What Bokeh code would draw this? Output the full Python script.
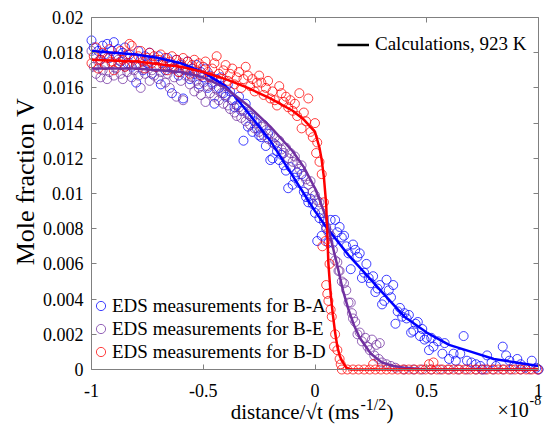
from math import pi
from bokeh.plotting import figure
from bokeh.models import (Range1d, FixedTicker, LinearAxis, Legend, LegendItem, Label)
from bokeh.core.properties import value
from bokeh.embed import file_html
from bokeh.resources import INLINE

# ---------------- data (x in units of 1e-8 m s^-1/2) ----------------
x_ticks = [-1, -0.5, 0, 0.5, 1]
x_tick_labels = ["-1", "-0.5", "0", "0.5", "1"]
y_ticks = [0, 0.002, 0.004, 0.006, 0.008, 0.01, 0.012, 0.014, 0.016, 0.018, 0.02]
y_tick_labels = ["0", "0.002", "0.004", "0.006", "0.008", "0.01", "0.012", "0.014", "0.016", "0.018", "0.02"]

# EDS measurements for B-A (blue)
ba_x = [
    -1.00, -0.99, -0.98, -0.97, -0.96, -0.95, -0.94, -0.93, -0.92, -0.91,
    -0.90, -0.89, -0.88, -0.87, -0.86, -0.85, -0.84, -0.83, -0.82, -0.81,
    -0.80, -0.79, -0.78, -0.77, -0.76, -0.75, -0.74, -0.73, -0.72, -0.71,
    -0.70, -0.69, -0.68, -0.67, -0.66, -0.65, -0.64, -0.63, -0.62, -0.61,
    -0.60, -0.59, -0.58, -0.57, -0.56, -0.55, -0.54, -0.53, -0.52, -0.51,
    -0.50, -0.49, -0.48, -0.47, -0.46, -0.45, -0.44, -0.43, -0.42, -0.41,
    -0.40, -0.39, -0.38, -0.37, -0.36, -0.35, -0.34, -0.33, -0.32, -0.31,
    -0.30, -0.29, -0.28, -0.27, -0.26, -0.25, -0.24, -0.23, -0.22, -0.21,
    -0.20, -0.19, -0.18, -0.17, -0.16, -0.15, -0.14, -0.13, -0.12, -0.11,
    -0.10, -0.09, -0.08, -0.07, -0.06, -0.05, -0.04, -0.03, -0.02, -0.01,
    0.00, 0.01, 0.02, 0.03, 0.04, 0.05, 0.06, 0.07, 0.08, 0.09,
    0.10, 0.11, 0.12, 0.13, 0.14, 0.15, 0.16, 0.17, 0.18, 0.19,
    0.20, 0.21, 0.22, 0.23, 0.24, 0.25, 0.26, 0.27, 0.28, 0.29,
    0.30, 0.31, 0.32, 0.33, 0.34, 0.35, 0.36, 0.37, 0.38, 0.39,
    0.40, 0.41, 0.42, 0.43, 0.44, 0.45, 0.46, 0.47, 0.48, 0.49,
    0.50, 0.51, 0.52, 0.53, 0.55, 0.57, 0.58, 0.60, 0.62, 0.63,
    0.65, 0.665, 0.68, 0.70, 0.72, 0.74, 0.77, 0.79, 0.81, 0.84,
    0.855, 0.87, 0.89, 0.905, 0.92, 0.94, 0.97, 0.99, 1.00, 0.75,
]
ba_y = [
    0.0187, 0.0183, 0.0178, 0.0181, 0.0176, 0.0184, 0.0179, 0.0185, 0.0177, 0.0181,
    0.0186, 0.0178, 0.0182, 0.0175, 0.0180, 0.0183, 0.0174, 0.0179, 0.0172, 0.0177,
    0.0163, 0.0181, 0.0176, 0.0170, 0.0178, 0.0174, 0.0180, 0.0168, 0.0176, 0.0172,
    0.0178, 0.0162, 0.0175, 0.0170, 0.0177, 0.0173, 0.0157, 0.0171, 0.0176, 0.0167,
    0.0173, 0.0154, 0.0170, 0.0175, 0.0165, 0.0171, 0.0168, 0.0173, 0.0162, 0.0169,
    0.0166, 0.0171, 0.0160, 0.0167, 0.0163, 0.0151, 0.0165, 0.0160, 0.0166, 0.0157,
    0.0155, 0.0162, 0.0158, 0.0153, 0.0149, 0.0150, 0.0155, 0.0147, 0.0130, 0.0151,
    0.0138, 0.0144, 0.0135, 0.0141, 0.0137, 0.0133, 0.0132, 0.0139, 0.0127, 0.0134,
    0.0119, 0.0120, 0.0128, 0.0124, 0.0119, 0.0122, 0.0116, 0.0113, 0.0103, 0.0115,
    0.0105, 0.0109, 0.0112, 0.0106, 0.0111, 0.0101, 0.0098, 0.0095, 0.0097, 0.0094,
    0.0089, 0.0073, 0.0086, 0.0076, 0.0084, 0.0080, 0.0072, 0.0085, 0.0072, 0.0085,
    0.0078, 0.0081, 0.0075, 0.0076, 0.0070, 0.0066, 0.0057, 0.0071, 0.0068, 0.0064,
    0.0066, 0.0052, 0.0055, 0.0060, 0.0052, 0.0049, 0.0053, 0.0044, 0.0046, 0.0048,
    0.0037, 0.0039, 0.0051, 0.0045, 0.0041, 0.0048, 0.0026, 0.0033, 0.0035, 0.0030,
    0.0032, 0.0029, 0.0031, 0.0021, 0.0022, 0.0026, 0.0027, 0.0019, 0.0023, 0.0017,
    0.0018, 0.0011, 0.0018, 0.0013, 0.0016, 0.0009, 0.0015, 0.0006, 0.0009, 0.0005,
    0.0009, 0.0019, 0.0005, 0.0004, 0.0003, 0.0002, 0.0008, 0.0004, 0.0002, 0.0013,
    0.0008, 0.0005, 0.0002, 0.0006, 0.0003, 0.0001, 0.0005, 0.0001, 0.0000, 0.0000,
]

# EDS measurements for B-E (purple)
be_x = [
    -1.00, -0.99, -0.98, -0.97, -0.96, -0.95, -0.94, -0.93, -0.92, -0.91,
    -0.90, -0.89, -0.88, -0.87, -0.86, -0.85, -0.84, -0.83, -0.82, -0.81,
    -0.80, -0.79, -0.78, -0.77, -0.76, -0.75, -0.74, -0.73, -0.72, -0.71,
    -0.70, -0.69, -0.68, -0.67, -0.66, -0.65, -0.64, -0.63, -0.62, -0.61,
    -0.60, -0.59, -0.58, -0.57, -0.56, -0.55, -0.54, -0.53, -0.52, -0.51,
    -0.50, -0.49, -0.48, -0.47, -0.46, -0.45, -0.44, -0.43, -0.42, -0.41,
    -0.40, -0.39, -0.38, -0.37, -0.36, -0.35, -0.34, -0.33, -0.32, -0.31,
    -0.30, -0.29, -0.28, -0.27, -0.26, -0.25, -0.24, -0.23, -0.22, -0.21,
    -0.20, -0.19, -0.18, -0.17, -0.16, -0.15, -0.14, -0.13, -0.12, -0.11,
    -0.10, -0.09, -0.08, -0.07, -0.06, -0.05, -0.04, -0.03, -0.02, -0.01,
    0.00, 0.01, 0.02, 0.03, 0.04, 0.05, 0.06, 0.07, 0.08, 0.09,
    0.10, 0.105, 0.11, 0.12, 0.13, 0.14, 0.15, 0.16, 0.165, 0.17,
    0.18, 0.19, 0.20, 0.21, 0.225, 0.235, 0.245, 0.255, 0.265, 0.275,
    0.285, 0.29, 0.30, 0.32, 0.34, 0.36, 0.40, 0.44, 0.48, 0.52,
    0.56, 0.60, 0.64, 0.68, 0.72, 0.76, 0.80, 0.84, 0.88, 0.92,
    0.96, 1.00,
]
be_y = [
    0.0181, 0.0172, 0.0168, 0.0175, 0.0166, 0.0170, 0.0173, 0.0165, 0.0169, 0.0174,
    0.0167, 0.0171, 0.0176, 0.0168, 0.0165, 0.0172, 0.0169, 0.0174, 0.0166, 0.0170,
    0.0173, 0.0167, 0.0160, 0.0171, 0.0168, 0.0175, 0.0164, 0.0170, 0.0167, 0.0172,
    0.0165, 0.0169, 0.0174, 0.0163, 0.0168, 0.0160, 0.0171, 0.0166, 0.0155, 0.0169,
    0.0164, 0.0153, 0.0167, 0.0170, 0.0162, 0.0166, 0.0158, 0.0164, 0.0160, 0.0156,
    0.0163, 0.0152, 0.0161, 0.0157, 0.0162, 0.0155, 0.0159, 0.0153, 0.0157, 0.0151,
    0.0156, 0.0150, 0.0148, 0.0153, 0.0146, 0.0144, 0.0149, 0.0143, 0.0147, 0.0141,
    0.0145, 0.0139, 0.0143, 0.0137, 0.0140, 0.0135, 0.0138, 0.0133, 0.0136, 0.0131,
    0.0134, 0.0129, 0.0132, 0.0127, 0.0130, 0.0125, 0.0123, 0.0126, 0.0120, 0.0123,
    0.0118, 0.0121, 0.0117, 0.0114, 0.0116, 0.0110, 0.0108, 0.0105, 0.0107, 0.0101,
    0.0099, 0.0096, 0.0095, 0.0089, 0.0086, 0.0081, 0.0078, 0.0076, 0.0068, 0.0062,
    0.0061, 0.0056, 0.0056, 0.0050, 0.0049, 0.0045, 0.0038, 0.0038, 0.0032, 0.0029,
    0.0027, 0.0020, 0.0021, 0.0016, 0.0018, 0.0013, 0.0011, 0.0017, 0.0008, 0.0014,
    0.0006, 0.0015, 0.0004, 0.0003, 0.0002, 0.0001, 0.0000, 0.0000, 0.0000, 0.0000,
    0.0000, 0.0000, 0.0000, 0.0000, 0.0000, 0.0000, 0.0000, 0.0000, 0.0000, 0.0000,
    0.0000, 0.0000,
]

# EDS measurements for B-D (red)
bd_x = [
    -1.00, -0.99, -0.98, -0.97, -0.96, -0.95, -0.94, -0.93, -0.92, -0.91,
    -0.90, -0.89, -0.88, -0.87, -0.86, -0.85, -0.84, -0.83, -0.82, -0.81,
    -0.80, -0.79, -0.78, -0.77, -0.76, -0.75, -0.74, -0.73, -0.72, -0.71,
    -0.70, -0.69, -0.68, -0.67, -0.66, -0.65, -0.64, -0.63, -0.62, -0.61,
    -0.60, -0.59, -0.58, -0.57, -0.56, -0.55, -0.54, -0.53, -0.52, -0.51,
    -0.50, -0.49, -0.48, -0.47, -0.46, -0.45, -0.44, -0.43, -0.42, -0.41,
    -0.40, -0.39, -0.38, -0.37, -0.36, -0.35, -0.34, -0.33, -0.32, -0.31,
    -0.30, -0.29, -0.28, -0.27, -0.26, -0.25, -0.24, -0.23, -0.22, -0.21,
    -0.20, -0.19, -0.18, -0.17, -0.16, -0.15, -0.14, -0.13, -0.12, -0.11,
    -0.10, -0.09, -0.08, -0.07, -0.06, -0.05, -0.04, -0.03, -0.02, -0.01,
    0.00, 0.005, 0.01, 0.02, 0.03, 0.033, 0.04, 0.047, 0.05, 0.055,
    0.06, 0.065, 0.07, 0.075, 0.085, 0.09, 0.10, 0.11, 0.115, 0.12,
    0.145, 0.17, 0.195, 0.22, 0.245, 0.27, 0.295, 0.32, 0.345, 0.37,
    0.395, 0.42, 0.445, 0.47, 0.495, 0.52, 0.545, 0.57, 0.595, 0.62,
    0.645, 0.67, 0.695, 0.72, 0.745, 0.77, 0.795, 0.82, 0.845, 0.87,
    0.895, 0.92, 0.945, 0.97, 0.995, 0.26, 0.51, 0.53,
]
bd_y = [
    0.0174, 0.0178, 0.0183, 0.0171, 0.0176, 0.0180, 0.0173, 0.0177, 0.0182, 0.0175,
    0.0170, 0.0178, 0.0174, 0.0181, 0.0176, 0.0172, 0.0179, 0.0185, 0.0184, 0.0176,
    0.0173, 0.0178, 0.0181, 0.0175, 0.0171, 0.0177, 0.0180, 0.0174, 0.0178, 0.0172,
    0.0176, 0.0179, 0.0173, 0.0177, 0.0170, 0.0175, 0.0178, 0.0172, 0.0176, 0.0169,
    0.0174, 0.0177, 0.0171, 0.0175, 0.0168, 0.0173, 0.0176, 0.0170, 0.0174, 0.0167,
    0.0172, 0.0175, 0.0169, 0.0166, 0.0171, 0.0174, 0.0178, 0.0168, 0.0165, 0.0170,
    0.0173, 0.0164, 0.0168, 0.0171, 0.0162, 0.0166, 0.0169, 0.0160, 0.0165, 0.0172,
    0.0167, 0.0161, 0.0165, 0.0158, 0.0163, 0.0167, 0.0163, 0.0156, 0.0160, 0.0164,
    0.0154, 0.0158, 0.0153, 0.0150, 0.0161, 0.0157, 0.0152, 0.0155, 0.0149, 0.0153,
    0.0147, 0.0151, 0.0144, 0.0157, 0.0137, 0.0146, 0.0141, 0.0154, 0.0135, 0.0132,
    0.0140, 0.0123, 0.0129, 0.0118, 0.0111, 0.0070, 0.0095, 0.0073, 0.0048, 0.0043,
    0.0039, 0.0060, 0.0034, 0.0030, 0.0013, 0.0020, 0.0011, 0.0006, 0.0003, 0.0000,
    0.0000, 0.0000, 0.0000, 0.0000, 0.0000, 0.0000, 0.0000, 0.0000, 0.0000, 0.0000,
    0.0000, 0.0000, 0.0000, 0.0000, 0.0000, 0.0000, 0.0000, 0.0000, 0.0000, 0.0000,
    0.0000, 0.0000, 0.0000, 0.0000, 0.0000, 0.0000, 0.0000, 0.0000, 0.0000, 0.0000,
    0.0000, 0.0000, 0.0000, 0.0000, 0.0000, 0.0003, 0.0003, 0.0004,
]

# Calculated profiles, 923 K
calc_ba_x = [-1, -0.9, -0.8, -0.7, -0.6, -0.5, -0.45, -0.4, -0.35, -0.3, -0.25, -0.2, -0.15, -0.1,
             -0.05, 0, 0.05, 0.1, 0.15, 0.2, 0.3, 0.4, 0.5, 0.6, 0.7, 0.8, 0.9, 1.0]
calc_ba_y = [0.0181, 0.0180, 0.0179, 0.0177, 0.0174, 0.0169, 0.0165, 0.0161, 0.0154, 0.0146, 0.0138,
             0.0130, 0.0120, 0.0110, 0.0100, 0.0090, 0.0081, 0.0073, 0.0065, 0.0058, 0.0044, 0.0030,
             0.0021, 0.0014, 0.0010, 0.0006, 0.0004, 0.0002]
calc_be_x = [-1, -0.8, -0.6, -0.5, -0.4, -0.3, -0.2, -0.1, -0.05, 0, 0.025, 0.05, 0.075, 0.1, 0.125,
             0.15, 0.175, 0.2, 0.25, 0.3, 0.35, 0.4, 0.5, 1.0]
calc_be_y = [0.0171, 0.0171, 0.0169, 0.0166, 0.0160, 0.0150, 0.0138, 0.0124, 0.0115, 0.0103, 0.0095,
             0.0086, 0.0072, 0.0059, 0.0045, 0.0034, 0.0025, 0.0018, 0.0009, 0.0004, 0.0002, 0.0001,
             0.0, 0.0]
calc_bd_x = [-1, -0.8, -0.6, -0.5, -0.4, -0.3, -0.2, -0.1, -0.05, 0, 0.02, 0.03, 0.04, 0.05, 0.06,
             0.07, 0.08, 0.09, 0.10, 0.11, 0.12, 0.14, 0.16, 1.0]
calc_bd_y = [0.0176, 0.0175, 0.0172, 0.0169, 0.0165, 0.0160, 0.0154, 0.0147, 0.0142, 0.0135, 0.0126,
             0.0119, 0.0109, 0.0094, 0.0060, 0.0043, 0.0031, 0.0021, 0.0013, 0.0008, 0.0005, 0.0001,
             0.0, 0.0]

# ---------------- layout (pixels) ----------------
W, H = 544, 427
BOX_L, BOX_R, BOX_T, BOX_B = 91, 538, 17, 369      # axes box inside the canvas
X0, X1, Y0, Y1 = -1.0, 1.0, 0.0, 0.02              # visible data box
px_x = (BOX_R - BOX_L) / (X1 - X0)
px_y = (BOX_B - BOX_T) / (Y1 - Y0)

FONT = "Liberation Serif"
BLUE = "#0000FF"
PURPLE = "#7030A0"
RED = "#FF0000"
FRAME_GRAY = "#808080"

# frame covers the whole canvas so that the outside texts are not clipped;
# the axes are drawn at fixed locations around the data box
p = figure(width=W, height=H,
           x_range=Range1d(X0 - BOX_L / px_x, X1 + (W - BOX_R) / px_x),
           y_range=Range1d(Y0 - (H - BOX_B) / px_y, Y1 + BOX_T / px_y),
           output_backend="svg", toolbar_location=None,
           min_border=0, min_border_left=0, min_border_right=0,
           min_border_top=0, min_border_bottom=0)
p.background_fill_color = "white"
p.border_fill_color = "white"
p.outline_line_color = None
p.xgrid.visible = False
p.ygrid.visible = False

x_over = {t: s for t, s in zip(x_ticks, x_tick_labels)}
y_over = {t: s for t, s in zip(y_ticks, y_tick_labels)}


def style(ax, ticks, overrides, show, loc, bounds, standoff):
    ax.fixed_location = loc
    ax.bounds = bounds
    ax.ticker = FixedTicker(ticks=ticks)
    ax.major_tick_in = 5
    ax.major_tick_out = 0
    ax.minor_tick_line_color = None
    ax.axis_line_color = FRAME_GRAY
    ax.major_tick_line_color = FRAME_GRAY
    ax.major_label_text_font = FONT
    ax.major_label_text_color = "black"
    ax.major_label_text_font_size = "18px"
    ax.major_label_standoff = standoff
    if show:
        ax.major_label_overrides = overrides
    else:
        ax.major_label_overrides = {t: "" for t in ticks}


style(p.xaxis[0], x_ticks, x_over, True, Y0, (X0, X1), 14)
style(p.yaxis[0], y_ticks, y_over, True, X0, (Y0, Y1), 8)
top_ax = LinearAxis()
right_ax = LinearAxis()
style(top_ax, x_ticks, x_over, False, Y1, (X0, X1), 0)
style(right_ax, y_ticks, y_over, False, X1, (Y0, Y1), 0)
p.add_layout(top_ax, "above")
p.add_layout(right_ax, "right")

# scatter measurements
r_ba = p.scatter(ba_x, ba_y, marker="circle", size=9, fill_color=None, line_color=BLUE,
                 line_width=1, line_alpha=0.75)
r_be = p.scatter(be_x, be_y, marker="circle", size=9, fill_color=None, line_color=PURPLE,
                 line_width=1, line_alpha=0.75)
r_bd = p.scatter(bd_x, bd_y, marker="circle", size=9, fill_color=None, line_color=RED,
                 line_width=1, line_alpha=0.75)

# calculated lines
p.line(calc_ba_x, calc_ba_y, line_color=BLUE, line_width=2.5)
p.line(calc_be_x, calc_be_y, line_color=PURPLE, line_width=2.5)
p.line(calc_bd_x, calc_bd_y, line_color=RED, line_width=2.5)
nan = float("nan")
r_calc = p.line(x=[nan], y=[nan], line_color="black", line_width=2.5)

leg1 = Legend(items=[LegendItem(label=value("EDS measurements for B-A"), renderers=[r_ba]),
                     LegendItem(label=value("EDS measurements for B-E"), renderers=[r_be]),
                     LegendItem(label=value("EDS measurements for B-D"), renderers=[r_bd])],
              location=(89, 64), glyph_width=23, glyph_height=23, label_height=21,
              label_standoff=0, spacing=-2, padding=0, margin=0,
              border_line_alpha=0, background_fill_alpha=0,
              label_text_font=FONT, label_text_font_size="19px", label_text_color="black")
leg2 = Legend(items=[LegendItem(label=value("Calculations, 923 K"), renderers=[r_calc])],
              location=(337, 372), glyph_width=32, glyph_height=21, label_height=21,
              label_standoff=6, spacing=0, padding=0, margin=0,
              border_line_alpha=0, background_fill_alpha=0,
              label_text_font=FONT, label_text_font_size="19px", label_text_color="black")
p.add_layout(leg1)
p.add_layout(leg2)


def label(x, y, text, size, align="left", angle=0.0):
    p.add_layout(Label(x=x, y=y, x_units="screen", y_units="screen", text=text,
                       angle=angle, text_align=align, text_baseline="middle",
                       text_font=FONT, text_font_size=size, text_color="black"))


# axis titles (screen pixels from the canvas bottom-left, vertical centres)
label(25, 246, "Mole fraction V", "26px", align="center", angle=pi / 2)
label(359, 16, "distance/√t (ms", "21px", align="right")
label(360, 23, "-1/2", "16px")
label(386, 16, ")", "21px")
label(497, 18, "×10", "20px")
label(529, 28, "-8", "14px")

open("out.html", "w").write(file_html(p, INLINE))
